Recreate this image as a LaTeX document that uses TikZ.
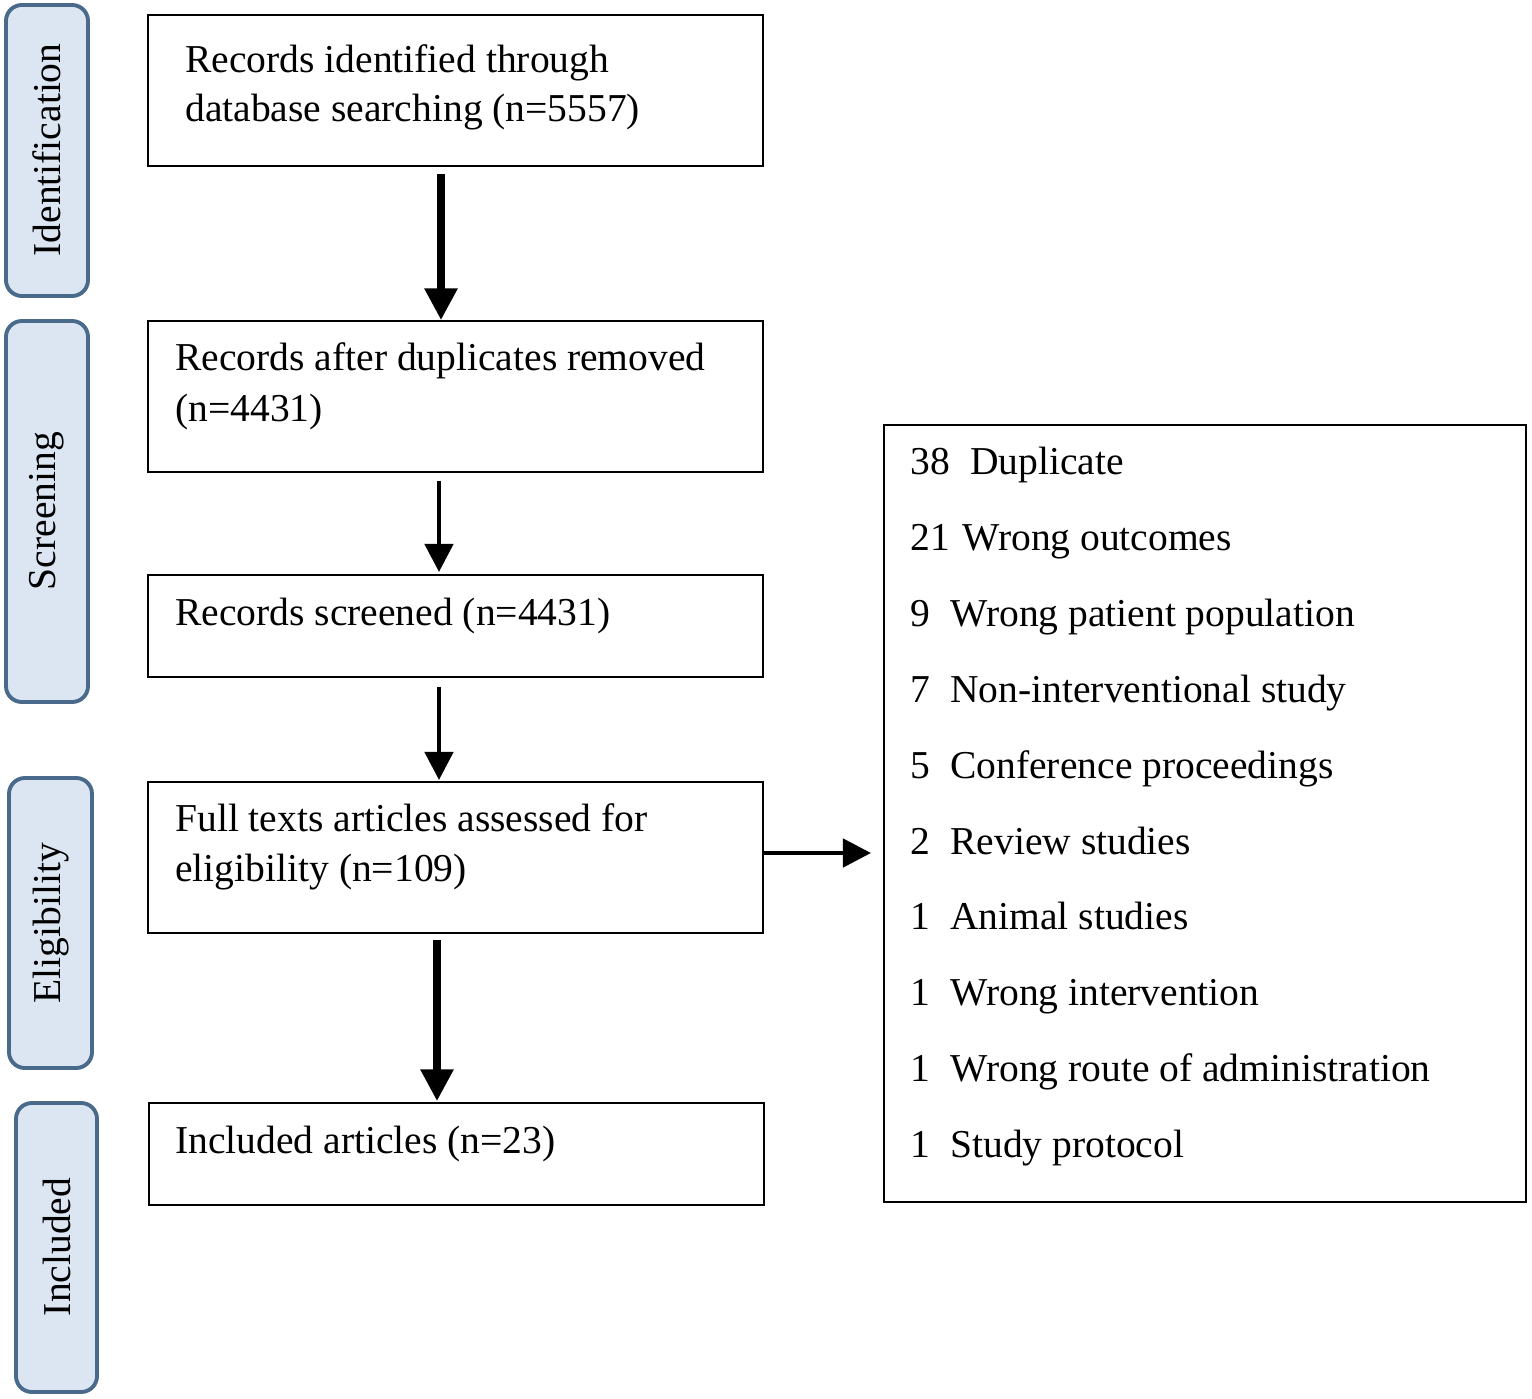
\documentclass[tikz,border=0pt]{standalone}
\usepackage{fontspec}
\setmainfont{Liberation Serif}
\usetikzlibrary{arrows.meta}
\definecolor{stagefill}{HTML}{DCE6F2}
\definecolor{stagedraw}{HTML}{4A6A8C}
\begin{document}
\begin{tikzpicture}[x=0.02cm,y=-0.02cm,
  txt/.style={font=\fontsize{22.5}{28.5}\selectfont, inner sep=0pt, anchor=base west},
  stagebox/.style={draw=stagedraw, fill=stagefill, line width=2.2pt, rounded corners=9pt},
  stagetxt/.style={font=\fontsize{22.5}{28.5}\selectfont, rotate=90, inner sep=0pt},
  flowbox/.style={draw=black, line width=1.4pt},
  arr/.style={-{Triangle[length=16pt,width=16pt]}, line width=2.6pt},
  bigarr/.style={-{Triangle[length=18pt,width=18pt]}, line width=4pt}]
\useasboundingbox (0,0) rectangle (1532,1399);
% stage labels
\draw[stagebox] (6,5) rectangle (88,296);
\node[stagetxt] (sid) at (47,150) {Identification};
\draw[stagebox] (6,321) rectangle (88,702);
\node[stagetxt] (ssc) at (47,511) {Screening};
\draw[stagebox] (9,778) rectangle (92,1068);
\node[stagetxt] (sel) at (51,923) {Eligibility};
\draw[stagebox] (16,1103) rectangle (97,1392);
\node[stagetxt] (sin) at (57,1247) {Included};
% flow boxes
\draw[flowbox] (148,15) rectangle (763,166);
\coordinate (b1) at (441,166);
\node[txt] (t1a) at (185,73) {Records identified through};
\node[txt] (t1b) at (185,122) {database searching (n=5557)};
\draw[flowbox] (148,321) rectangle (763,472);
\node[txt] (t2a) at (175,370) {Records after duplicates removed};
\node[txt] (t2b) at (175,421) {(n=4431)};
\draw[flowbox] (148,575) rectangle (763,677);
\node[txt] (t3) at (175,625) {Records screened (n=4431)};
\draw[flowbox] (148,782) rectangle (763,933);
\node[txt] (t4a) at (175,831) {Full texts articles assessed for};
\node[txt] (t4b) at (175,881) {eligibility (n=109)};
\draw[flowbox] (149,1103) rectangle (764,1205);
\node[txt] (t5) at (175,1153) {Included articles (n=23)};
% exclusion box
\draw[flowbox] (884,425) rectangle (1526,1202);
\node[txt] (e1n) at (910,474) {38};
\node[txt] (e1) at (970,474) {Duplicate};
\node[txt] (e2n) at (910,550) {21};
\node[txt] (e2) at (962,550) {Wrong outcomes};
\node[txt] (e3n) at (910,626) {9};
\node[txt] (e3) at (950,626) {Wrong patient population};
\node[txt] (e4n) at (910,702) {7};
\node[txt] (e4) at (950,702) {Non-interventional study};
\node[txt] (e5n) at (910,778) {5};
\node[txt] (e5) at (950,778) {Conference proceedings};
\node[txt] (e6n) at (910,854) {2};
\node[txt] (e6) at (950,854) {Review studies};
\node[txt] (e7n) at (910,929) {1};
\node[txt] (e7) at (950,929) {Animal studies};
\node[txt] (e8n) at (910,1005) {1};
\node[txt] (e8) at (950,1005) {Wrong intervention};
\node[txt] (e9n) at (910,1081) {1};
\node[txt] (e9) at (950,1081) {Wrong route of administration};
\node[txt] (e10n) at (910,1157) {1};
\node[txt] (e10) at (950,1157) {Study protocol};
% arrows
\coordinate (a1s) at (441,174); \coordinate (a1e) at (441,320);
\coordinate (a2s) at (439,481); \coordinate (a2e) at (439,572);
\coordinate (a3s) at (439,687); \coordinate (a3e) at (439,780);
\coordinate (a4s) at (437,940); \coordinate (a4e) at (437,1101);
\coordinate (a5s) at (763,853); \coordinate (a5e) at (871,853);
\draw[bigarr] (a1s) -- (a1e);
\draw[arr] (a2s) -- (a2e);
\draw[arr] (a3s) -- (a3e);
\draw[bigarr] (a4s) -- (a4e);
\draw[arr] (a5s) -- (a5e);
\end{tikzpicture}
\end{document}
